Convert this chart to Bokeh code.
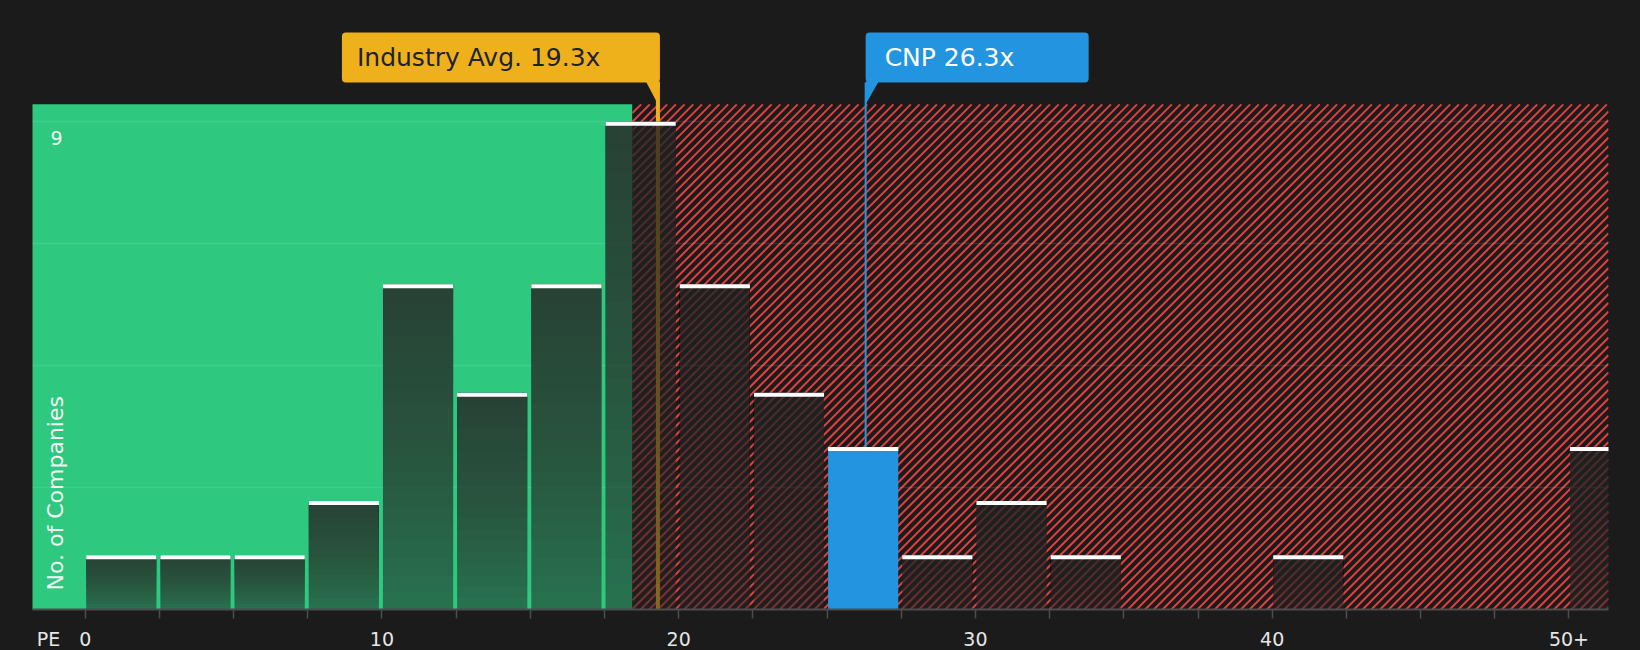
import numpy as np
from bokeh.plotting import figure
from bokeh.models import Range1d, FixedTicker
from bokeh.core.properties import value
from bokeh.embed import file_html
from bokeh.resources import INLINE

# ---------------- data ----------------
bin_lefts = [0, 2.5, 5, 7.5, 10, 12.5, 15, 17.5, 20, 22.5, 25, 27.5, 30, 32.5,
             35, 37.5, 40, 42.5, 45, 47.5, 50]
counts = [1, 1, 1, 2, 6, 4, 6, 9, 6, 4, 3, 1, 2, 1, 0, 0, 1, 0, 0, 0, 3]
bin_width = 2.5
industry_avg = 19.3
company_name = "CNP"
company_pe = 26.3
fair_threshold = 18.44
y_region_top = 9.32
y_ticks = [0, 2.25, 4.5, 6.75, 9]
x_major_ticks = [0, 10, 20, 30, 40, 50]
x_tick_labels = ["0", "10", "20", "30", "40", "50+"]
industry_label = "Industry Avg. 19.3x"
company_label = "CNP 26.3x"
y_axis_title = "No. of Companies"
x_axis_title = "PE"

# ---------------- layout ----------------
W = 1640
BL, BR, BT, BB = 32, 32, 8, 60
frame_w = W - BL - BR
frame_h = 601
H = frame_h + BT + BB
x_start = -1.776
x_end = x_start + frame_w / 29.675
y_start = 0.0
y_end = frame_h / 54.2
px_x = (x_end - x_start) / frame_w
px_y = (y_end - y_start) / frame_h

BG = "#1b1b1b"
GREEN = "#2ec87f"
RED = "#e0403f"
BLUE = "#2394e0"
GOLD = "#eeb11c"
FONT = "DejaVu Sans"

p = figure(width=W, height=H, output_backend="svg", toolbar_location=None,
           x_range=Range1d(x_start, x_end), y_range=Range1d(y_start, y_end),
           y_axis_location=None, min_border_left=BL, min_border_right=BR,
           min_border_top=BT, min_border_bottom=BB)
p.background_fill_color = BG
p.border_fill_color = BG
p.outline_line_color = None
p.xgrid.visible = False
p.ygrid.visible = False

# regions
p.quad(left=[x_start - 5], right=[fair_threshold], bottom=[0], top=[y_region_top],
       fill_color=GREEN, line_color=None)
p.quad(left=[fair_threshold], right=[x_end + 5], bottom=[0], top=[y_region_top],
       fill_color=BG, line_color=None)

# 45-degree hatch lines clipped to the overvalued region (screen px geometry)
X0 = (fair_threshold - x_start) / px_x
X1 = frame_w
Yt = y_region_top / px_y
step = 8.7
hx0, hy0, hx1, hy1 = [], [], [], []
for c in np.arange(X0 - Yt - step, X1 + step, step):
    ylo = max(0.0, X0 - c)
    yhi = min(Yt, X1 - c)
    if ylo < yhi:
        hx0.append(x_start + (c + ylo) * px_x); hy0.append(ylo * px_y)
        hx1.append(x_start + (c + yhi) * px_x); hy1.append(yhi * px_y)
p.segment(x0=hx0, y0=hy0, x1=hx1, y1=hy1, line_color=RED, line_width=2)

# grid lines
p.hspan(y=y_ticks[1:], line_color="white", line_alpha=0.1, line_width=1.5)

# box geometry
box_top = y_end - (32 - BT) * px_y
box_bottom = y_end - (82 - BT) * px_y

# marker lines
p.segment(x0=[industry_avg], y0=[0], x1=[industry_avg], y1=[box_bottom],
          line_color=GOLD, line_width=4)
p.segment(x0=[company_pe], y0=[0], x1=[company_pe], y1=[box_bottom],
          line_color=BLUE, line_width=2)

# bars
lefts = np.array(bin_lefts, dtype=float)
vals = np.array(counts, dtype=float)
bl = lefts + 1 * px_x
br = lefts + bin_width - 3 * px_x
hi = int(np.searchsorted(lefts, company_pe, side="right") - 1)
dark = [i for i in range(len(vals)) if vals[i] > 0 and i != hi]

bar_color = "#242424"
a_bottom, a_top, N = 0.53, 0.8, 18
a_layer = 1 - ((1 - a_top) / (1 - a_bottom)) ** (1.0 / N)
p.quad(left=bl[dark], right=br[dark], bottom=0, top=vals[dark],
       fill_color=bar_color, fill_alpha=a_bottom, line_color=None)
L, R, B, T = [], [], [], []
for i in dark:
    for k in range(1, N + 1):
        L.append(bl[i]); R.append(br[i])
        B.append(vals[i] * k / (N + 1)); T.append(vals[i])
p.quad(left=L, right=R, bottom=B, top=T, fill_color=bar_color,
       fill_alpha=a_layer, line_color=None)

# highlighted company bar
p.quad(left=[bl[hi]], right=[br[hi]], bottom=[0], top=[vals[hi]],
       fill_color=BLUE, line_color=None)

# white top caps
nz = [i for i in range(len(vals)) if vals[i] > 0]
p.quad(left=bl[nz], right=br[nz], top=vals[nz], bottom=vals[nz] - 4 * px_y,
       fill_color="white", line_color=None)

# callout boxes
ind_right = industry_avg + 2 * px_x
ind_left = ind_right - 318 * px_x
p.quad(left=[ind_left], right=[ind_right], bottom=[box_bottom], top=[box_top],
       fill_color=GOLD, line_color=None, border_radius=4)
p.patch(x=[industry_avg - 12 * px_x, ind_right, industry_avg],
        y=[box_bottom + 1 * px_y, box_bottom + 1 * px_y, y_region_top],
        fill_color=GOLD, line_color=None)
cnp_left = company_pe
cnp_right = company_pe + 223 * px_x
p.quad(left=[cnp_left], right=[cnp_right], bottom=[box_bottom], top=[box_top],
       fill_color=BLUE, line_color=None, border_radius=4)
p.patch(x=[company_pe, company_pe + 13 * px_x, company_pe],
        y=[box_bottom + 1 * px_y, box_bottom + 1 * px_y, y_region_top],
        fill_color=BLUE, line_color=None)

box_mid = (box_top + box_bottom) / 2
p.text(x=[ind_left + 15 * px_x], y=[box_mid], text=[industry_label],
       text_font=value(FONT), text_font_size="25px", text_color="#1e2230",
       text_align="left", text_baseline="middle")
p.text(x=[cnp_left + 19 * px_x], y=[box_mid], text=[company_label],
       text_font=value(FONT), text_font_size="25px", text_color="white",
       text_align="left", text_baseline="middle")

# inner y tick label and y title
p.text(x=[x_start + 24 * px_x], y=[y_ticks[-1] - 16 * px_y], text=[str(int(y_ticks[-1]))],
       text_font=value(FONT), text_font_size="19px", text_color="#f2f2f2",
       text_align="center", text_baseline="middle")
p.text(x=[x_start + 23 * px_x], y=[19 * px_y], text=[y_axis_title], angle=np.pi / 2,
       text_font=value(FONT), text_font_size="22px", text_color="#f2f2f2",
       text_align="left", text_baseline="middle")

# x axis: invisible major ticks carry the labels, minor ticks mark bin edges
pe_pos = x_start + 16 * px_x
label_ticks = [pe_pos] + x_major_ticks
label_texts = [x_axis_title] + x_tick_labels
ax = p.xaxis[0]
ax.ticker = FixedTicker(ticks=label_ticks, minor_ticks=list(bin_lefts))
ax.major_label_overrides = {t: s for t, s in zip(label_ticks, label_texts)}
ax.axis_line_color = "#4d4d4d"
ax.axis_line_width = 2
ax.major_tick_line_color = None
ax.minor_tick_line_color = "#4d4d4d"
ax.minor_tick_line_width = 1.5
ax.major_tick_in = 0
ax.major_tick_out = 9
ax.minor_tick_in = 0
ax.minor_tick_out = 9
ax.major_label_standoff = 9
ax.major_label_text_font = FONT
ax.major_label_text_font_size = "19px"
ax.major_label_text_color = "#e6e6e6"

html = file_html(p, INLINE)
html = html.replace("</head>",
                    "<style>html,body{margin:0;padding:0;background:#1b1b1b;overflow:hidden}</style></head>", 1)
open("out.html", "w").write(html)
